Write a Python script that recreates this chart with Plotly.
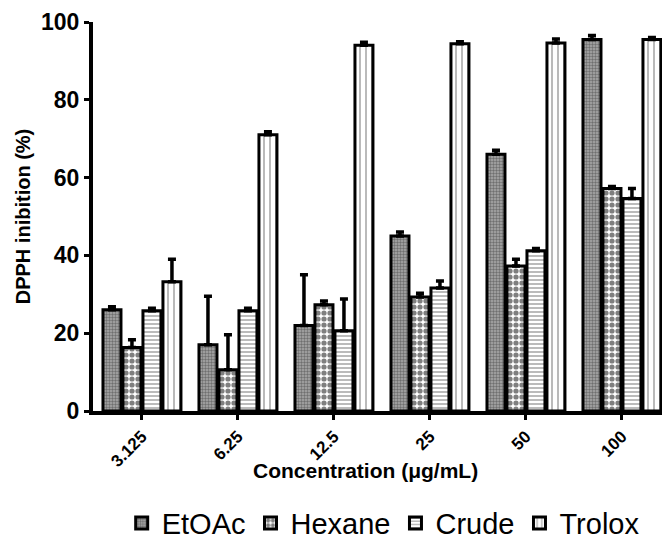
import plotly.graph_objects as go

categories = ["3.125", "6.25", "12.5", "25", "50", "100"]
series_names = ["EtOAc", "Hexane", "Crude", "Trolox"]
etoac = [26.0, 17.0, 22.0, 45.0, 66.0, 95.5]
etoac_err = [0.8, 12.5, 13.0, 1.0, 1.0, 1.0]
hexane = [16.3, 10.6, 27.3, 29.3, 37.3, 57.2]
hexane_err = [2.0, 9.0, 1.0, 1.0, 1.7, 0.5]
crude = [25.8, 25.8, 20.6, 31.6, 41.2, 54.6]
crude_err = [0.6, 0.6, 8.2, 1.8, 0.6, 2.6]
trolox = [33.2, 71.0, 94.0, 94.4, 94.6, 95.5]
trolox_err = [5.8, 0.8, 0.8, 0.5, 1.0, 0.5]

values = [etoac, hexane, crude, trolox]
errors = [etoac_err, hexane_err, crude_err, trolox_err]
patterns = [
    dict(shape=".", fgcolor="#333333", bgcolor="#aaaaaa", size=3, solidity=0.5),
    dict(shape=".", fgcolor="#000000", bgcolor="#ffffff", size=6, solidity=0.6),
    dict(shape="-", fgcolor="#555555", bgcolor="#ffffff", size=4, solidity=0.4),
    dict(shape="|", fgcolor="#666666", bgcolor="#ffffff", size=6, solidity=0.3),
]

FONT = "Liberation Sans, Arial, sans-serif"
fig = go.Figure()
for name, v, e, p in zip(series_names, values, errors, patterns):
    fig.add_trace(go.Bar(
        name=name, x=categories, y=v,
        marker=dict(color="white", pattern=p, line=dict(color="black", width=3)),
        error_y=dict(type="data", array=e, arrayminus=[0] * len(e), symmetric=False,
                     color="black", thickness=3.5, width=4),
    ))

fig.update_layout(
    width=662, height=544,
    margin=dict(l=93, r=0, t=22, b=133, autoexpand=False),
    paper_bgcolor="white", plot_bgcolor="white",
    barmode="group", bargap=0.167, bargroupgap=0.1,
    showlegend=True,
    legend=dict(orientation="h", x=0.51, xanchor="center", y=-0.288, yanchor="middle",
                font=dict(family=FONT, size=29, color="black"), itemwidth=30,
                tracegroupgap=0),
    font=dict(family=FONT, color="black"),
    annotations=[dict(text="Concentration (μg/mL)", xref="paper", yref="paper",
                      x=0.479, y=-0.152, xanchor="center", yanchor="middle", showarrow=False,
                      font=dict(family=FONT, size=21, weight="bold", color="black"))],
)
fig.update_xaxes(
    type="category", range=[-0.51, 5.417], automargin=False,
    showline=True, linecolor="black", linewidth=4,
    ticks="outside", ticklen=5, tickwidth=3, tickcolor="black",
    tickangle=-45, tickfont=dict(family=FONT, size=17, weight="bold"),
    showgrid=False, zeroline=False,
)
fig.update_yaxes(
    range=[0, 100], tickvals=[0, 20, 40, 60, 80, 100], automargin=False,
    showline=True, linecolor="black", linewidth=4,
    ticks="outside", ticklen=5, tickwidth=3, tickcolor="black",
    tickfont=dict(family=FONT, size=23, weight="bold"),
    title=dict(text="DPPH inibition (%)", font=dict(family=FONT, size=20, weight="bold"), standoff=6),
    showgrid=False, zeroline=False,
)
fig.write_html("out.html")
